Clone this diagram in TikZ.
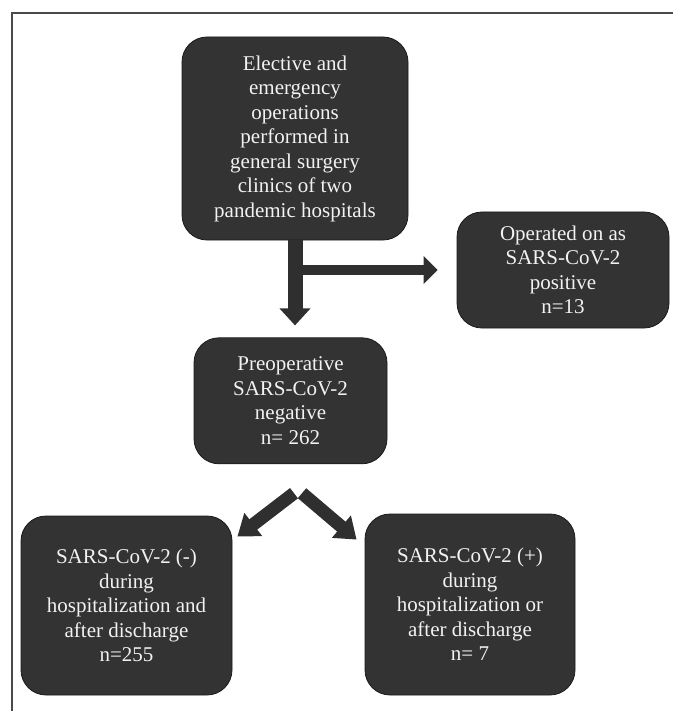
\documentclass[tikz,border=0pt]{standalone}
\usepackage{fontspec}
\setmainfont{Liberation Serif}
\usetikzlibrary{arrows.meta,positioning,calc}
\definecolor{boxgray}{HTML}{333333}
\definecolor{edgegray}{HTML}{1A1A1A}
\definecolor{arrowgray}{HTML}{2F2F2F}
\definecolor{framegray}{HTML}{4A4A4A}
\definecolor{textwhite}{HTML}{F2F2F2}
\tikzset{
  box/.style={
    draw=edgegray,
    fill=boxgray,
    rounded corners=25pt,
    line width=0.8pt,
    text=textwhite,
    align=center,
    inner sep=0pt,
    font=\rmfamily\fontsize{21}{24.5}\selectfont
  },
  bigarrow/.style={-{Triangle[width=30pt,length=17pt]}, line width=15pt, draw=arrowgray},
  sidearrow/.style={-{Triangle[width=27pt,length=14pt]}, line width=10pt, draw=arrowgray},
  splitarrow/.style={-{Triangle[width=28pt,length=20pt]}, line width=13pt, draw=arrowgray}
}

\begin{document}
\begin{tikzpicture}[x=1pt, y=-1pt]
\useasboundingbox (0,0) rectangle (672,711);

% Outer frame (cut off at right and bottom)
\draw[framegray, line width=1.5pt] (12,720) -- (12,13) -- (680,13);

% Boxes
\node[box, minimum width=226pt, minimum height=203pt] (ops) at (295,138.5) {Elective and\\emergency\\operations\\performed in\\general surgery\\clinics of two\\pandemic hospitals};
\node[box, minimum width=193pt, minimum height=126pt, below=97pt of ops, xshift=-4.5pt] (neg) {Preoperative\\SARS-CoV-2\\negative\\n= 262};
\node[box, minimum width=212pt, minimum height=116pt] (pos) at (563,270) {Operated on as\\SARS-CoV-2\\positive\\n=13};
\node[box, minimum width=211pt, minimum height=179pt] (stayneg) at (126.5,605.5) {SARS-CoV-2 (-)\\during\\hospitalization and\\after discharge\\n=255};
\node[box, minimum width=210pt, minimum height=181pt] (turnpos) at (470,604.5) {SARS-CoV-2 (+)\\during\\hospitalization or\\after discharge\\n= 7};

% Arrows
\draw[bigarrow, shorten >=12pt] (ops.south) -- (ops.south |- neg.north);
\draw[sidearrow, shorten >=19pt] (ops.south |- pos.west) -- (pos.west);
\coordinate (fork) at ($(neg.south)+(7.5,29)$);
\draw[splitarrow] ($(fork)+(-4,0)$) -- ($(stayneg.north east)+(5,21)$);
\draw[splitarrow] ($(fork)+(4,0)$) -- ($(turnpos.north west)+(-8,26)$);

\end{tikzpicture}
\end{document}
